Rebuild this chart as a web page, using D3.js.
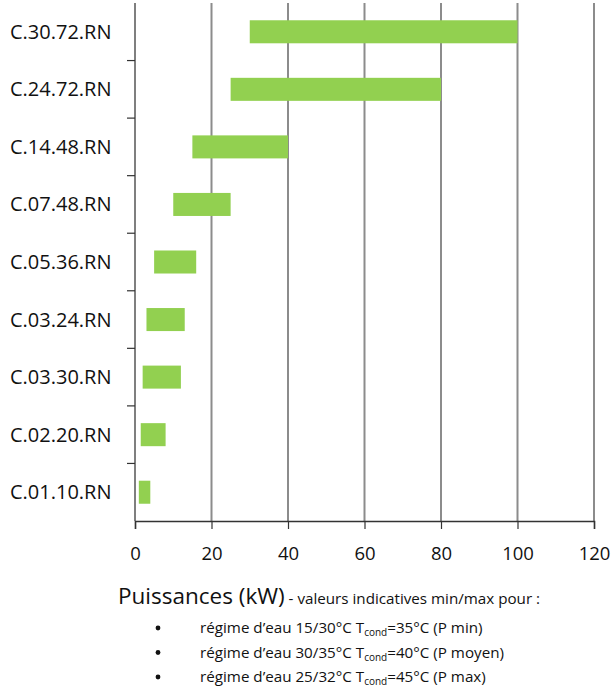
<!DOCTYPE html>
<html>
<head>
<meta charset="utf-8">
<script src="https://cdn.jsdelivr.net/npm/d3@7"></script>
<style>
  body { margin: 0; background: #fff; }
  text { font-family: "Open Sans", "Noto Sans", sans-serif; fill: #111; }
</style>
</head>
<body>
<script>
// Gamme de puissances par modèle

const models = ["C.30.72.RN", "C.24.72.RN", "C.14.48.RN", "C.07.48.RN", "C.05.36.RN",
                "C.03.24.RN", "C.03.30.RN", "C.02.20.RN", "C.01.10.RN"];
const pMin = [30, 25, 15, 10, 5, 3, 2, 1.5, 1];
const pMax = [100, 80, 40, 25, 16, 13, 12, 8, 4];
const xTicks = [0, 20, 40, 60, 80, 100, 120];
const notes = [
  {pre: "régime d’eau 15/30°C T", post: "=35°C (P min)"},
  {pre: "régime d’eau 30/35°C T", post: "=40°C (P moyen)"},
  {pre: "régime d’eau 25/32°C T", post: "=45°C (P max)"}
];

const width = 612, height = 690;
const margin = {top: 3, right: 18, left: 135, bottom: 169};

const svg = d3.select("body").append("svg")
    .attr("width", width)
    .attr("height", height);

const x = d3.scaleLinear().domain([0, 120]).range([margin.left, width - margin.right]);
const y = d3.scaleBand().domain(models).range([margin.top, height - margin.bottom])
    .paddingInner(0.6).paddingOuter(0.3);
const yEdges = d3.scaleBand().domain(models).range([margin.top, height - margin.bottom]);

// gridlines
svg.append("g").selectAll("line")
  .data(xTicks.slice(1))
  .join("line")
    .attr("x1", d => x(d)).attr("x2", d => x(d))
    .attr("y1", margin.top).attr("y2", height - margin.bottom)
    .attr("stroke", "#8c8c8c")
    .attr("stroke-width", 2);

// bars
svg.append("g").selectAll("rect")
  .data(models)
  .join("rect")
    .attr("x", (d, i) => x(pMin[i]))
    .attr("width", (d, i) => x(pMax[i]) - x(pMin[i]))
    .attr("y", d => y(d))
    .attr("height", y.bandwidth())
    .attr("fill", "#92d050");

// y axis
const yAxis = svg.append("g");
yAxis.append("line")
    .attr("x1", margin.left).attr("x2", margin.left)
    .attr("y1", margin.top).attr("y2", height - margin.bottom)
    .attr("stroke", "#555").attr("stroke-width", 1.5);
yAxis.selectAll(".ytick")
  .data(models.slice(1))
  .join("line")
    .attr("class", "ytick")
    .attr("x1", margin.left - 8).attr("x2", margin.left)
    .attr("y1", d => yEdges(d)).attr("y2", d => yEdges(d))
    .attr("stroke", "#333").attr("stroke-width", 1.2);
yAxis.selectAll(".ylab")
  .data(models)
  .join("text")
    .attr("class", "ylab")
    .attr("x", 10)
    .attr("y", d => yEdges(d) + yEdges.bandwidth() / 2)
    .attr("dy", "0.35em")
    .attr("font-size", 20)
    .text(d => d);

// x axis
const xAxis = d3.axisBottom(x).tickValues(xTicks).tickSize(8).tickPadding(18);
const gx = svg.append("g")
    .attr("transform", `translate(0,${height - margin.bottom})`)
    .call(xAxis);
gx.select(".domain").attr("stroke", "#333").attr("stroke-width", 1.5);
gx.selectAll(".tick line").attr("stroke", "#333").attr("stroke-width", 1.2);
gx.selectAll(".tick text").attr("font-size", 18.5).attr("fill", "#111")
    .attr("font-family", "'Open Sans', 'Noto Sans', sans-serif");

// title
const title = svg.append("text").attr("x", 118).attr("y", 604);
title.append("tspan").attr("font-size", 22.5).text("Puissances (kW)");
title.append("tspan").attr("font-size", 15.2).text(" - valeurs indicatives min/max pour :");

// notes
const ng = svg.append("g");
notes.forEach((n, i) => {
  const yy = 633 + i * 24.5;
  ng.append("circle").attr("cx", 158).attr("cy", yy - 5).attr("r", 2.4).attr("fill", "#111");
  const t = ng.append("text").attr("x", 200).attr("y", yy).attr("font-size", 15.2);
  t.append("tspan").text(n.pre);
  t.append("tspan").attr("font-size", 10).attr("dy", 3).text("cond");
  t.append("tspan").attr("dy", -3).text(n.post);
});
</script>
</body>
</html>
